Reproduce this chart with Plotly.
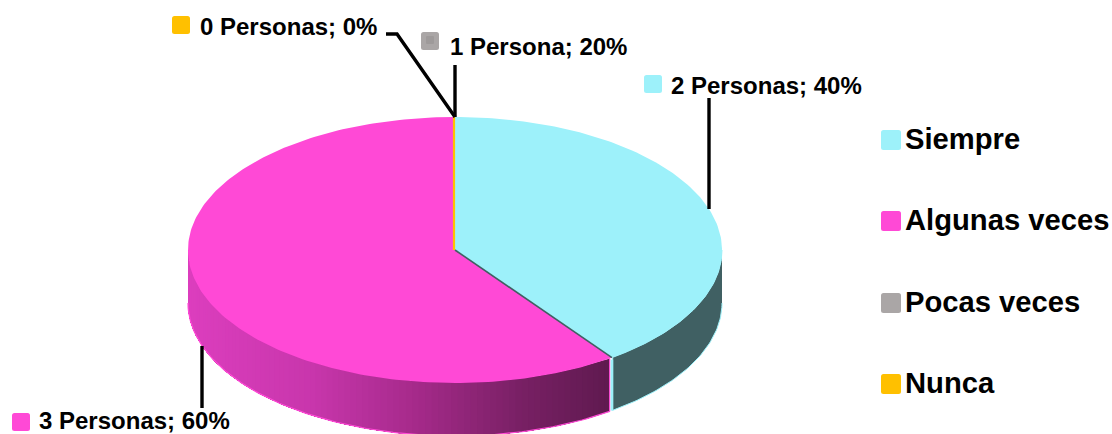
import math
import plotly.graph_objects as go

# ---- data ----
categories = ["Siempre", "Algunas veces", "Pocas veces", "Nunca"]
values = [2, 3, 0, 0]
label_persons = ["2 Personas", "3 Personas", "1 Persona", "0 Personas"]
label_percent = ["40%", "60%", "20%", "0%"]
colors = ["#9DF1FA", "#FF49D6", "#AAA6A6", "#FFC000"]

# ---- geometry ----
W, H = 1112, 434
CX, CY, RX, RY, DEPTH = 455, 250, 267, 133, 53
FONT = "Liberation Sans, Arial, sans-serif"

def pt(deg, dy=0):
    a = math.radians(deg)
    return CX + RX * math.sin(a), CY - RY * math.cos(a) + dy

def arc(a0, a1, dy=0, n=None):
    n = n or max(2, int(abs(a1 - a0)) + 2)
    return [pt(a0 + (a1 - a0) * i / (n - 1), dy) for i in range(n)]

def lerp_color(stops, t):
    for (t0, c0), (t1, c1) in zip(stops, stops[1:]):
        if t <= t1:
            f = (t - t0) / (t1 - t0)
            return "rgb(%d,%d,%d)" % tuple(round(a + (b - a) * f) for a, b in zip(c0, c1))
    return "rgb(%d,%d,%d)" % stops[-1][1]

def poly(points, fill, line=None, lw=0):
    xs, ys = zip(*points)
    return go.Scatter(x=list(xs), y=list(ys), mode="lines", fill="toself", fillcolor=fill,
                      line=dict(color=line or fill, width=lw), hoverinfo="skip", showlegend=False)

def seg(points, color, lw):
    xs, ys = zip(*points)
    return go.Scatter(x=list(xs), y=list(ys), mode="lines", line=dict(color=color, width=lw),
                      hoverinfo="skip", showlegend=False)

total = sum(values)
angles = [0]
for v in values:
    angles.append(angles[-1] + 360 * v / total)

fig = go.Figure()

# side walls: overlapping strips, each running on to the far end so no seams show
split = angles[1]
stops = [(0.0, (96, 26, 80)), (0.2, (120, 32, 100)), (0.45, (165, 42, 138)),
         (0.7, (200, 54, 172)), (1.0, (220, 62, 190))]
N = 90
a_start, a_end = split + 0.6, 270
for i in range(N):
    a0 = a_start + (a_end - a_start) * i / N
    x0 = pt(a0)[0]
    t = (x0 - pt(a_start)[0]) / (pt(a_end)[0] - pt(a_start)[0])
    col = lerp_color(stops, abs(t))
    fig.add_trace(poly(arc(a0, a_end, 0) + arc(a_end, a0, DEPTH), col))
fig.add_trace(seg(arc(a_start, a_end, DEPTH), colors[1], 1.2))
fig.add_trace(seg([pt(a_start, 0), pt(a_start, DEPTH)], colors[1], 1.2))

cy_side = arc(90, split - 0.2) + arc(split - 0.2, 90, DEPTH)
fig.add_trace(poly(cy_side, "#406063", colors[0], 1))
fig.add_trace(seg([pt(split, 2), pt(split, DEPTH)], colors[0], 2.5))

# top faces
fig.add_trace(poly([(CX, CY)] + arc(angles[0], angles[1]), colors[0]))
fig.add_trace(poly([(CX, CY)] + arc(angles[1], angles[2]), colors[1]))
fig.add_trace(seg([(CX, CY), pt(split)], "#406063", 1.6))
fig.add_trace(seg([(CX - 1, CY), (CX - 1, CY - RY)], colors[3], 2.2))

# leader lines
leaders = [
    [(709, 209), (709, 98)],
    [(202, 346), (202, 408)],
    [(455, 117), (455, 65)],
    [(455, 117), (397, 34), (386, 34)],
]
for L in leaders:
    fig.add_trace(seg(L, "#000000", 3.4))

def rrect(x0, y0, x1, y1, color, r=2.5):
    p = (f"M{x0+r},{y0} L{x1-r},{y0} Q{x1},{y0} {x1},{y0+r} L{x1},{y1-r} Q{x1},{y1} {x1-r},{y1} "
         f"L{x0+r},{y1} Q{x0},{y1} {x0},{y1-r} L{x0},{y0+r} Q{x0},{y0} {x0+r},{y0} Z")
    return dict(type="path", path=p, fillcolor=color, line=dict(width=0), xref="x", yref="y", layer="above")

shapes, ann = [], []
def text(x, y, s, size):
    ann.append(dict(x=x, y=y, xref="x", yref="y", text="<b>%s</b>" % s, showarrow=False,
                    xanchor="left", yanchor="middle", xshift=-2,
                    font=dict(family=FONT, size=size, color="#000000")))

# data labels
label_pos = [(671, 85.5, 644, 75), (39, 420.5, 12, 413), (450, 46.5, 421, 32), (200, 26, 172, 16)]
for i, (tx, ty, sx, sy) in enumerate(label_pos):
    text(tx, ty, f"{label_persons[i]}; {label_percent[i]}", 24)
    shapes.append(rrect(sx, sy, sx + 18, sy + 18, colors[i]))
shapes.append(rrect(426, 36, 434, 44, "#9E9A9A", 1))

# legend
leg_y = [140, 221, 303, 384]
for c, col, y in zip(categories, colors, leg_y):
    shapes.append(rrect(881, y - 10, 901, y + 10, col))
    text(905, y - 1, c, 29.2)

fig.update_layout(
    width=W, height=H, margin=dict(l=0, r=0, t=0, b=0),
    paper_bgcolor="white", plot_bgcolor="white", showlegend=False,
    xaxis=dict(range=[0, W], visible=False, fixedrange=True),
    yaxis=dict(range=[H, 0], visible=False, fixedrange=True),
    shapes=shapes, annotations=ann,
)
fig.write_html("out.html", config={"displayModeBar": False},
               post_script="document.body.style.margin='0';document.body.style.overflow='hidden';")
